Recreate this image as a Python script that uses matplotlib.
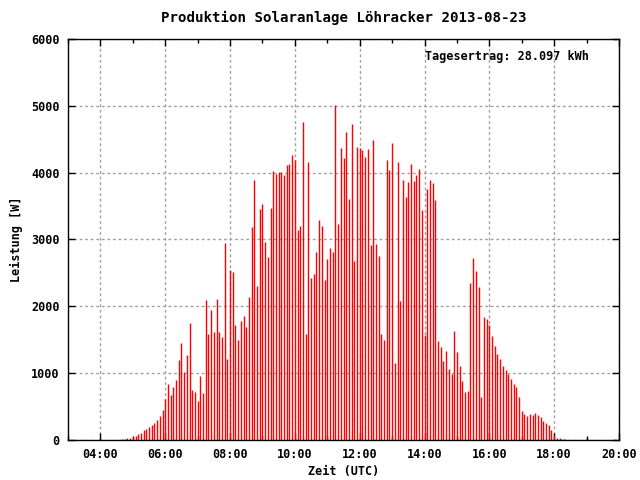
import numpy as np
import pandas as pd
import matplotlib
matplotlib.use("Agg")
import matplotlib.pyplot as plt
from matplotlib.ticker import FuncFormatter, MultipleLocator

# Leistung [W] alle 5 Minuten ab 04:40 UTC
start_time = "2013-08-23 04:40"
power = [
    15, 15, 30, 30, 45, 60, 90, 105, 150, 165, 195, 225, 255, 300, 360, 450,
    610, 835, 670, 790, 895, 1195, 1450, 1015, 1270, 1745, 745, 715,
    580, 955, 700, 2095, 1580, 1940, 1610, 2110, 1610, 1535, 2950, 1210,
    2545, 2515, 1720, 1500, 1780, 1855, 1690, 2140, 3190, 3890, 2305, 3460,
    3530, 2965, 2740, 3475, 4030, 3985, 4015, 4015, 3970, 4115, 4130, 4265,
    4190, 3145, 3205, 4760, 1585, 4160, 2425, 2485, 2815, 3295, 3205, 2395,
    2710, 2875, 2815, 5015, 3235, 4370, 4220, 4610, 3610, 4730, 2680, 4385,
    4370, 4340, 4235, 4355, 2920, 4490, 2935, 2755, 1585, 1495, 4190, 4040,
    4445, 1150, 4160, 2080, 3890, 3640, 3860, 4130, 3875, 3965, 4055, 3445,
    1570, 3755, 3890, 3845, 3595, 1480, 1390, 1180, 1330, 1060, 990, 1630,
    1315, 1105, 885, 720, 735, 2350, 2725, 2530, 2290, 645, 1840, 1810,
    1720, 1555, 1405, 1285, 1210, 1105, 1045, 985, 910, 835, 790, 640,
    435, 390, 360, 390, 375, 405, 375, 345, 285, 255, 225, 150,
    75, 30, 30, 15, 15,
]
# zweite Kurve (schwarz), nur ein Wert
other_times = ["19:00"]
other_power = [30]

title = "Produktion Solaranlage Löhracker 2013-08-23"
yield_text = "Tagesertrag: 28.097 kWh"
xticks_h = [4, 6, 8, 10, 12, 14, 16, 18, 20]
yticks = [0, 1000, 2000, 3000, 4000, 5000, 6000]

times = pd.date_range(start_time, periods=len(power), freq="5min")
hours = times.hour + times.minute / 60.0
other_hours = [int(t[:2]) + int(t[3:]) / 60.0 for t in other_times]

plt.rcParams["font.family"] = ["DejaVu Sans Mono"]
plt.rcParams["font.weight"] = "bold"
plt.rcParams["axes.titleweight"] = "bold"
plt.rcParams["axes.labelweight"] = "bold"
plt.rcParams["font.size"] = 8.5

fig = plt.figure(figsize=(6.4, 4.8), dpi=100)
ax = fig.add_axes([68 / 640, 1 - 440 / 480, 551 / 640, 401 / 480])

ax.vlines(hours, 0, power, color="red", linewidth=1.0)
ax.vlines(other_hours, 0, other_power, color="black", linewidth=1.0)

ax.set_xlim(3, 20)
ax.set_ylim(0, 6000)
ax.set_xticks(xticks_h)
ax.xaxis.set_minor_locator(MultipleLocator(1))
ax.xaxis.set_major_formatter(FuncFormatter(lambda v, p: "%02d:00" % int(round(v))))
ax.set_yticks(yticks)

ax.grid(True, which="major", color="#a0a0a0", linestyle=(0, (2, 2)), linewidth=1.0)
ax.set_axisbelow(True)
ax.tick_params(which="both", direction="in", top=True, right=True, width=1, color="black")
ax.tick_params(which="major", length=5, pad=6)
ax.tick_params(which="minor", length=3)
for s in ax.spines.values():
    s.set_linewidth(1.0)

ax.set_xlabel("Zeit (UTC)", labelpad=3)
ax.set_ylabel("Leistung [W]", labelpad=6)
ax.set_title(title, pad=12)
ax.text(0.648, 0.957, yield_text, transform=ax.transAxes, va="center", ha="left")

fig.savefig("out.png", dpi=100)
